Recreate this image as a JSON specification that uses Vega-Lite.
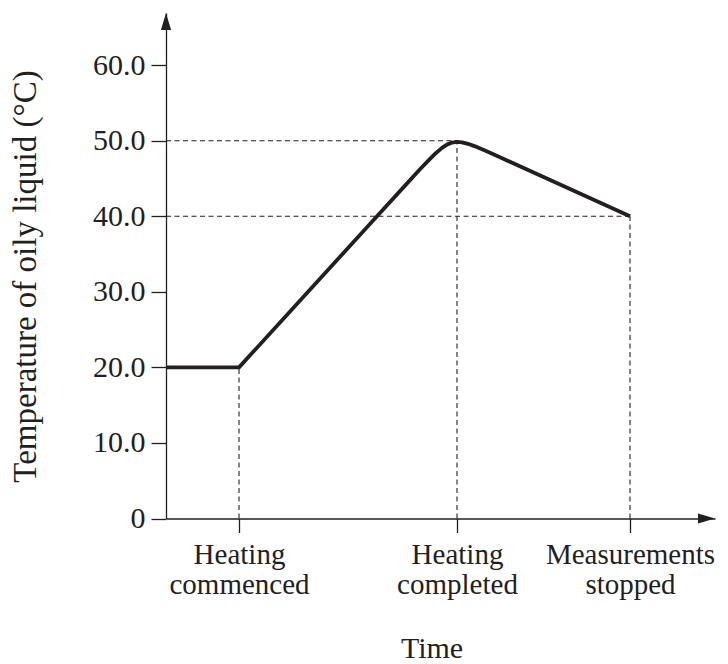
{
  "$schema": "https://vega.github.io/schema/vega-lite/v6.json",
  "width": 549,
  "height": 505.5,
  "autosize": {"type": "none"},
  "padding": {"left": 166, "top": 13, "right": 13, "bottom": 145.5},
  "background": "white",
  "config": {
    "view": {"stroke": null},
    "font": "Liberation Serif",
    "axis": {
      "grid": false,
      "domainColor": "#231f20",
      "domainWidth": 1.3,
      "tickColor": "#231f20",
      "tickWidth": 1.3,
      "labelColor": "#231f20",
      "titleColor": "#231f20",
      "labelFont": "Liberation Serif",
      "titleFont": "Liberation Serif",
      "labelFontSize": 30,
      "titleFontSize": 30,
      "titleFontWeight": "normal"
    }
  },
  "datasets": {
    "temperature": [
      {"time": 0, "temp": 20},
      {"time": 7.3, "temp": 20},
      {"time": 21.1, "temp": 40},
      {"time": 23.9, "temp": 44.05},
      {"time": 25.4, "temp": 46.21},
      {"time": 26.4, "temp": 47.6},
      {"time": 27.0, "temp": 48.38},
      {"time": 27.6, "temp": 49.05},
      {"time": 28.1, "temp": 49.48},
      {"time": 28.6, "temp": 49.75},
      {"time": 29.1, "temp": 49.85},
      {"time": 29.6, "temp": 49.79},
      {"time": 30.2, "temp": 49.59},
      {"time": 30.9, "temp": 49.25},
      {"time": 31.9, "temp": 48.69},
      {"time": 33.4, "temp": 47.8},
      {"time": 46.4, "temp": 40.0}
    ],
    "guides": [
      {"time": 0, "time2": 29.1, "temp": 50, "temp2": 50},
      {"time": 0, "time2": 46.4, "temp": 40, "temp2": 40},
      {"time": 7.3, "time2": 7.3, "temp": 0, "temp2": 20},
      {"time": 29.1, "time2": 29.1, "temp": 0, "temp2": 50},
      {"time": 46.4, "time2": 46.4, "temp": 0, "temp2": 40}
    ],
    "arrowUp": [{"time": 0, "temp": 66.9}],
    "arrowRight": [{"time": 54.9, "temp": 0}]
  },
  "encoding": {
    "x": {
      "field": "time",
      "type": "quantitative",
      "scale": {"domain": [0, 54.9], "nice": false, "zero": false},
      "axis": {
        "values": [7.3, 29.1, 46.4],
        "labelExpr": "datum.value < 15 ? ['Heating', 'commenced'] : datum.value < 35 ? ['Heating', 'completed'] : ['Measurements', 'stopped']",
        "labelFontSize": 29,
        "tickSize": 14,
        "labelPadding": 8,
        "labelBaseline": "top",
        "labelLineHeight": 30,
        "labelFlush": false,
        "labelOverlap": false,
        "title": "Time",
        "titleX": 265.5,
        "titleY": 138.5,
        "titleAlign": "center",
        "titleBaseline": "alphabetic"
      }
    },
    "y": {
      "field": "temp",
      "type": "quantitative",
      "scale": {"domain": [0, 66.9], "nice": false, "zero": true},
      "axis": {
        "values": [0, 10, 20, 30, 40, 50, 60],
        "labelExpr": "datum.value == 0 ? '0' : format(datum.value, '.1f')",
        "tickSize": 15,
        "labelPadding": 6,
        "labelBaseline": "middle",
        "title": "Temperature of oily liquid (°C)",
        "titleFontSize": 33,
        "titleAngle": 270,
        "titleX": -141,
        "titleY": 263,
        "titleAlign": "center",
        "titleBaseline": "middle"
      }
    }
  },
  "layer": [
    {
      "data": {"name": "guides"},
      "mark": {"type": "rule", "color": "#231f20", "strokeWidth": 1.1, "strokeDash": [5, 3.5]},
      "encoding": {
        "x2": {"field": "time2"},
        "y2": {"field": "temp2"}
      }
    },
    {
      "data": {"name": "temperature"},
      "mark": {"type": "line", "color": "#231f20", "strokeWidth": 3.8, "strokeJoin": "round", "strokeCap": "butt", "interpolate": "linear"},
      "encoding": {}
    },
    {
      "data": {"name": "arrowUp"},
      "mark": {"type": "point", "shape": "M0,0L0.6,2L-0.6,2Z", "size": 289, "filled": true, "opacity": 1, "color": "#231f20", "strokeWidth": 0},
      "encoding": {}
    },
    {
      "data": {"name": "arrowRight"},
      "mark": {"type": "point", "shape": "M0,0L-2,-0.6L-2,0.6Z", "size": 289, "filled": true, "opacity": 1, "color": "#231f20", "strokeWidth": 0},
      "encoding": {}
    }
  ]
}
